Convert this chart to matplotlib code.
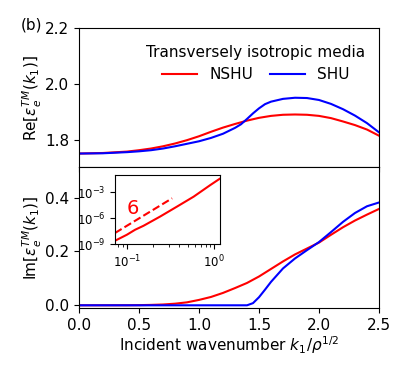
import numpy as np
import matplotlib
matplotlib.use('Agg')
import matplotlib.pyplot as plt
from matplotlib.ticker import NullLocator

# Re part
k_re_nshu = [0, 0.2, 0.4, 0.5, 0.6, 0.7, 0.8, 0.9, 1.0, 1.1, 1.2, 1.3, 1.4, 1.5,
             1.6, 1.7, 1.8, 1.9, 2.0, 2.1, 2.2, 2.3, 2.4, 2.5]
re_nshu = [1.750, 1.752, 1.757, 1.762, 1.768, 1.776, 1.786, 1.798, 1.812, 1.828,
           1.843, 1.856, 1.868, 1.878, 1.885, 1.889, 1.890, 1.889, 1.885, 1.877,
           1.865, 1.852, 1.836, 1.814]

k_re_shu = [0, 0.2, 0.4, 0.5, 0.6, 0.7, 0.8, 0.9, 1.0, 1.1, 1.2, 1.3, 1.35, 1.4,
            1.45, 1.5, 1.55, 1.6, 1.7, 1.8, 1.9, 2.0, 2.1, 2.2, 2.3, 2.4, 2.5]
re_shu = [1.750, 1.751, 1.755, 1.758, 1.762, 1.768, 1.776, 1.785, 1.794, 1.806,
          1.821, 1.842, 1.855, 1.874, 1.894, 1.912, 1.927, 1.936, 1.946, 1.950,
          1.949, 1.942, 1.928, 1.909, 1.886, 1.859, 1.826]

# Im part
k_im_nshu = [0, 0.4, 0.5, 0.6, 0.7, 0.8, 0.9, 1.0, 1.1, 1.2, 1.3, 1.4, 1.5, 1.6,
             1.7, 1.8, 1.9, 2.0, 2.1, 2.2, 2.3, 2.4, 2.5]
im_nshu = [0.0, 0.0002, 0.0006, 0.0015, 0.003, 0.006, 0.011, 0.020, 0.031, 0.046,
           0.064, 0.083, 0.107, 0.135, 0.163, 0.189, 0.211, 0.233, 0.262, 0.290,
           0.315, 0.337, 0.358]

k_im_shu = [0, 1.0, 1.4, 1.45, 1.5, 1.55, 1.6, 1.7, 1.8, 1.9, 2.0, 2.1, 2.2, 2.3,
            2.4, 2.5]
im_shu = [0.0, 0.0, 0.0, 0.008, 0.030, 0.058, 0.087, 0.137, 0.174, 0.205, 0.235,
          0.272, 0.310, 0.343, 0.368, 0.382]

# inset (log-log, NSHU at small k)
k_inset = [0.073, 0.1, 0.124, 0.155, 0.241, 0.376, 0.583, 0.906, 1.18]
im_inset = [2.4e-9, 1.2e-8, 4.5e-8, 1.3e-7, 1.55e-6, 2.2e-5, 3.1e-4, 6.9e-3, 4.1e-2]
k_ref = [0.073, 0.33]
ref = [1.9e-8, 2.0e-4]

plt.rcParams['font.size'] = 11

fig = plt.figure(figsize=(4.07, 3.70), dpi=100)
ax1 = fig.add_axes([0.1941, 0.5473, 0.7371, 0.377])
ax2 = fig.add_axes([0.1941, 0.1676, 0.7371, 0.3797])

ax1.plot(k_re_nshu, re_nshu, color='red', lw=1.5, label='NSHU')
ax1.plot(k_re_shu, re_shu, color='blue', lw=1.5, label='SHU')
ax1.set_xlim(0, 2.5)
ax1.set_ylim(1.70, 2.2)
ax1.set_yticks([1.8, 2.0, 2.2])
ax1.set_xticks([0, 0.5, 1.0, 1.5, 2.0, 2.5])
ax1.set_xticklabels([])
ax1.set_ylabel(r'Re[$\epsilon_e^{TM}(k_1)$]')
ax1.yaxis.set_label_coords(-0.115, 0.5)
ax1.legend(title='Transversely isotropic media', ncol=2, frameon=False,
           loc='upper center', bbox_to_anchor=(0.59, 0.98),
           handlelength=2.3, columnspacing=1.1, title_fontsize=11)

ax2.plot(k_im_nshu, im_nshu, color='red', lw=1.5)
ax2.plot(k_im_shu, im_shu, color='blue', lw=1.5)
ax2.set_xlim(0, 2.5)
ax2.set_ylim(-0.01, 0.512)
ax2.set_yticks([0.0, 0.2, 0.4])
ax2.set_xticks([0, 0.5, 1.0, 1.5, 2.0, 2.5])
ax2.set_ylabel(r'Im[$\epsilon_e^{TM}(k_1)$]')
ax2.yaxis.set_label_coords(-0.115, 0.5)
ax2.set_xlabel(r'Incident wavenumber $k_1/\rho^{1/2}$', labelpad=1.5)

axin = fig.add_axes([0.2826, 0.3405, 0.258, 0.1865])
axin.loglog(k_inset, im_inset, color='red', lw=1.5)
axin.loglog(k_ref, ref, color='red', lw=1.5, ls='--')
axin.set_xlim(0.073, 1.17)
axin.set_ylim(1e-9, 1e-1)
axin.set_yticks([1e-9, 1e-6, 1e-3])
axin.yaxis.set_minor_locator(NullLocator())
axin.tick_params(labelsize=8.5)
axin.text(0.17, 0.52, '6', color='red', fontsize=14, transform=axin.transAxes,
          ha='center', va='center')

fig.text(0.052, 0.932, '(b)', fontsize=11, ha='left', va='center')

fig.savefig('out.png', dpi=100)
